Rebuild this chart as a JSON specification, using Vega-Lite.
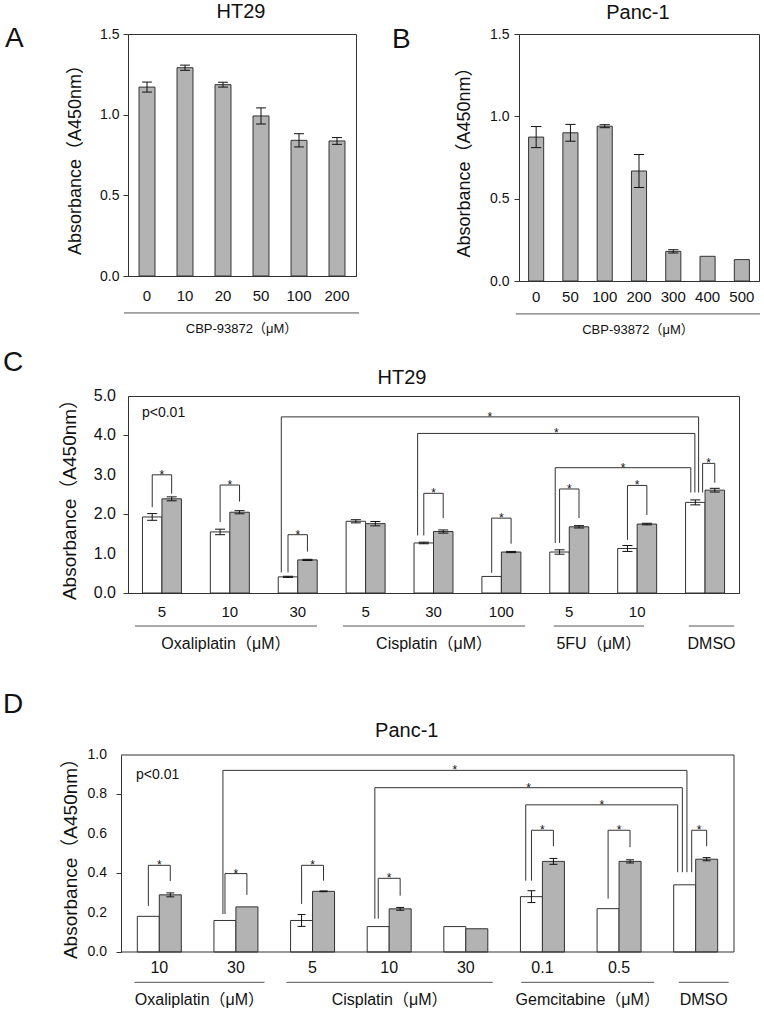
{
"$schema": "https://vega.github.io/schema/vega-lite/v6.json",
"padding": {"left": 2, "top": 1, "right": 0, "bottom": 0},
"config": {
  "font": "Liberation Sans, Noto Sans CJK JP, sans-serif",
  "view": {"stroke": "#333333", "strokeWidth": 1},
  "axis": {"domainColor": "#333333", "tickColor": "#333333", "labelColor": "#111111", "titleColor": "#111111", "titleFontWeight": "normal", "grid": false, "domainWidth": 1, "tickWidth": 1, "labelOverlap": false},
  "text": {"color": "#111111"}
},
"datasets": {
  "A": [
    {"dose": "0", "g": 0, "mean": 1.171, "sd": 0.031},
    {"dose": "10", "g": 1, "mean": 1.291, "sd": 0.016},
    {"dose": "20", "g": 2, "mean": 1.186, "sd": 0.015},
    {"dose": "50", "g": 3, "mean": 0.992, "sd": 0.05},
    {"dose": "100", "g": 4, "mean": 0.841, "sd": 0.041},
    {"dose": "200", "g": 5, "mean": 0.837, "sd": 0.021}
  ],
  "B": [
    {"dose": "0", "g": 0, "mean": 0.874, "sd": 0.064},
    {"dose": "50", "g": 1, "mean": 0.90, "sd": 0.051},
    {"dose": "100", "g": 2, "mean": 0.94, "sd": 0.009},
    {"dose": "200", "g": 3, "mean": 0.668, "sd": 0.10},
    {"dose": "300", "g": 4, "mean": 0.18, "sd": 0.01},
    {"dose": "400", "g": 5, "mean": 0.15, "sd": 0},
    {"dose": "500", "g": 6, "mean": 0.13, "sd": 0}
  ],
  "groupsA": [{"drug": "CBP-93872（μM）", "from": -0.605, "to": 5.58}],
  "groupsB": [{"drug": "CBP-93872（μM）", "from": -0.59, "to": 6.53}],
  "C": [
    {"g": 0, "cond": "ctrl", "dose": "5", "mean": 1.93, "sd": 0.085},
    {"g": 0, "cond": "trt", "dose": "5", "mean": 2.39, "sd": 0.05},
    {"g": 1, "cond": "ctrl", "dose": "10", "mean": 1.55, "sd": 0.07},
    {"g": 1, "cond": "trt", "dose": "10", "mean": 2.05, "sd": 0.04},
    {"g": 2, "cond": "ctrl", "dose": "30", "mean": 0.41, "sd": 0.015},
    {"g": 2, "cond": "trt", "dose": "30", "mean": 0.84, "sd": 0.015},
    {"g": 3, "cond": "ctrl", "dose": "5", "mean": 1.82, "sd": 0.04},
    {"g": 3, "cond": "trt", "dose": "5", "mean": 1.76, "sd": 0.055},
    {"g": 4, "cond": "ctrl", "dose": "30", "mean": 1.27, "sd": 0.02},
    {"g": 4, "cond": "trt", "dose": "30", "mean": 1.56, "sd": 0.04},
    {"g": 5, "cond": "ctrl", "dose": "100", "mean": 0.42, "sd": 0},
    {"g": 5, "cond": "trt", "dose": "100", "mean": 1.04, "sd": 0.015},
    {"g": 6, "cond": "ctrl", "dose": "5", "mean": 1.04, "sd": 0.055},
    {"g": 6, "cond": "trt", "dose": "5", "mean": 1.68, "sd": 0.03},
    {"g": 7, "cond": "ctrl", "dose": "10", "mean": 1.13, "sd": 0.075},
    {"g": 7, "cond": "trt", "dose": "10", "mean": 1.75, "sd": 0.02},
    {"g": 8, "cond": "ctrl", "dose": "", "mean": 2.30, "sd": 0.063},
    {"g": 8, "cond": "trt", "dose": "", "mean": 2.61, "sd": 0.047}
  ],
  "yticksC": [{"v": 0}, {"v": 1}, {"v": 2}, {"v": 3}, {"v": 4}, {"v": 5}],
  "bracketsC": [
    {"x1": -0.143, "x2": 0.143, "top": 3.0, "lb": 2.18, "rb": 2.52, "sig": "*"},
    {"x1": 0.857, "x2": 1.143, "top": 2.74, "lb": 1.80, "rb": 2.32, "sig": "*"},
    {"x1": 1.857, "x2": 2.143, "top": 1.48, "lb": 0.52, "rb": 1.05, "sig": "*"},
    {"x1": 3.857, "x2": 4.143, "top": 2.53, "lb": 1.46, "rb": 1.90, "sig": "*"},
    {"x1": 4.857, "x2": 5.143, "top": 1.90, "lb": 0.51, "rb": 1.25, "sig": "*"},
    {"x1": 5.857, "x2": 6.143, "top": 2.64, "lb": 1.27, "rb": 1.90, "sig": "*"},
    {"x1": 6.857, "x2": 7.143, "top": 2.73, "lb": 1.35, "rb": 1.98, "sig": "*"},
    {"x1": 7.964, "x2": 8.143, "top": 3.29, "lb": 2.55, "rb": 2.80, "sig": "*"},
    {"x1": 1.758, "x2": 7.905, "top": 4.47, "lb": 0.52, "rb": 2.55, "sig": "*"},
    {"x1": 3.766, "x2": 7.85, "top": 4.05, "lb": 1.46, "rb": 2.55, "sig": "*"},
    {"x1": 5.793, "x2": 7.79, "top": 3.18, "lb": 1.27, "rb": 2.55, "sig": "*"}
  ],
  "groupsC": [
    {"drug": "Oxaliplatin（μM）", "from": -0.398, "to": 2.283},
    {"drug": "Cisplatin（μM）", "from": 2.666, "to": 5.35},
    {"drug": "5FU（μM）", "from": 5.77, "to": 7.1},
    {"drug": "DMSO", "from": 7.76, "to": 8.43}
  ],
  "D": [
    {"g": 0, "cond": "ctrl", "dose": "10", "mean": 0.181, "sd": 0},
    {"g": 0, "cond": "trt", "dose": "10", "mean": 0.29, "sd": 0.01},
    {"g": 1, "cond": "ctrl", "dose": "30", "mean": 0.16, "sd": 0},
    {"g": 1, "cond": "trt", "dose": "30", "mean": 0.229, "sd": 0},
    {"g": 2, "cond": "ctrl", "dose": "5", "mean": 0.16, "sd": 0.03},
    {"g": 2, "cond": "trt", "dose": "5", "mean": 0.308, "sd": 0.002},
    {"g": 3, "cond": "ctrl", "dose": "10", "mean": 0.129, "sd": 0},
    {"g": 3, "cond": "trt", "dose": "10", "mean": 0.219, "sd": 0.007},
    {"g": 4, "cond": "ctrl", "dose": "30", "mean": 0.129, "sd": 0},
    {"g": 4, "cond": "trt", "dose": "30", "mean": 0.118, "sd": 0},
    {"g": 5, "cond": "ctrl", "dose": "0.1", "mean": 0.281, "sd": 0.03},
    {"g": 5, "cond": "trt", "dose": "0.1", "mean": 0.46, "sd": 0.015},
    {"g": 6, "cond": "ctrl", "dose": "0.5", "mean": 0.22, "sd": 0},
    {"g": 6, "cond": "trt", "dose": "0.5", "mean": 0.46, "sd": 0.008},
    {"g": 7, "cond": "ctrl", "dose": "", "mean": 0.341, "sd": 0},
    {"g": 7, "cond": "trt", "dose": "", "mean": 0.471, "sd": 0.008}
  ],
  "yticksD": [{"v": 0}, {"v": 0.2}, {"v": 0.4}, {"v": 0.6}, {"v": 0.8}, {"v": 1.0}],
  "frameD": [
    {"x1": -0.5, "x2": 7.5, "y1": 1, "y2": 1},
    {"x1": 7.5, "x2": 7.5, "y1": 0, "y2": 1},
    {"x1": -0.5, "x2": 7.5, "y1": 0, "y2": 0}
  ],
  "bracketsD": [
    {"x1": -0.143, "x2": 0.143, "top": 0.44, "lb": 0.234, "rb": 0.36, "sig": "*"},
    {"x1": 0.857, "x2": 1.143, "top": 0.398, "lb": 0.193, "rb": 0.29, "sig": "*"},
    {"x1": 1.857, "x2": 2.143, "top": 0.44, "lb": 0.244, "rb": 0.362, "sig": "*"},
    {"x1": 2.857, "x2": 3.143, "top": 0.374, "lb": 0.169, "rb": 0.286, "sig": "*"},
    {"x1": 4.857, "x2": 5.143, "top": 0.618, "lb": 0.362, "rb": 0.537, "sig": "*"},
    {"x1": 5.857, "x2": 6.143, "top": 0.618, "lb": 0.271, "rb": 0.532, "sig": "*"},
    {"x1": 6.948, "x2": 7.143, "top": 0.618, "lb": 0.405, "rb": 0.537, "sig": "*"},
    {"x1": 0.830, "x2": 6.886, "top": 0.922, "lb": 0.193, "rb": 0.405, "sig": "*"},
    {"x1": 2.813, "x2": 6.826, "top": 0.834, "lb": 0.169, "rb": 0.405, "sig": "*"},
    {"x1": 4.782, "x2": 6.765, "top": 0.747, "lb": 0.362, "rb": 0.405, "sig": "*"}
  ],
  "groupsD": [
    {"drug": "Oxaliplatin（μM）", "from": -0.324, "to": 1.372},
    {"drug": "Cisplatin（μM）", "from": 1.659, "to": 4.352},
    {"drug": "Gemcitabine（μM）", "from": 4.724, "to": 6.458},
    {"drug": "DMSO", "from": 6.778, "to": 7.43}
  ]
},
"spacing": 10,
"columns": 1,
"align": "none",
"concat": [
{
  "spacing": 30,
  "hconcat": [
  {
    "width": 228, "height": 242,
    "layer": [
      {"data": {"name": "A"},
       "transform": [{"calculate": "datum.g - 0.21", "as": "xa"}, {"calculate": "datum.g + 0.21", "as": "xb"}],
       "mark": {"type": "rect", "fill": "#b3b3b3", "stroke": "#333333", "strokeWidth": 1},
       "encoding": {
         "x": {"field": "xa", "type": "quantitative", "scale": {"domain": [-0.5, 5.5], "nice": false, "zero": false}, "axis": {"labels": false, "ticks": false, "title": null}},
         "x2": {"field": "xb"},
         "y": {"field": "mean", "type": "quantitative", "scale": {"domain": [0, 1.5], "nice": false}, "axis": {"values": [0, 0.5, 1, 1.5], "format": ".1f", "tickSize": 5, "labelPadding": 4, "labelFontSize": 14, "labelOverlap": false, "title": "Absorbance（A450nm）", "titleFontSize": 18, "titlePadding": 15}},
         "y2": {"datum": 0}
       }},
      {"data": {"name": "A"},
       "transform": [{"filter": "datum.sd > 0"}, {"calculate": "datum.mean - datum.sd", "as": "lo"}, {"calculate": "datum.mean + datum.sd", "as": "hi"}],
       "mark": {"type": "rule", "color": "#111111", "strokeWidth": 1},
       "encoding": {"x": {"field": "g", "type": "quantitative"}, "y": {"field": "lo", "type": "quantitative"}, "y2": {"field": "hi"}}},
      {"data": {"name": "A"},
       "transform": [{"filter": "datum.sd > 0"}, {"calculate": "datum.mean - datum.sd", "as": "lo"}, {"calculate": "datum.mean + datum.sd", "as": "hi"}, {"calculate": "datum.g - 0.13", "as": "cl"}, {"calculate": "datum.g + 0.13", "as": "cr"}, {"fold": ["lo", "hi"], "as": ["end", "cy"]}],
       "mark": {"type": "rule", "color": "#111111", "strokeWidth": 1},
       "encoding": {"x": {"field": "cl", "type": "quantitative"}, "x2": {"field": "cr"}, "y": {"field": "cy", "type": "quantitative"}}},
      {"data": {"name": "A"},
       "mark": {"type": "text", "fontSize": 15, "baseline": "middle", "fill": "#111111"},
       "encoding": {"x": {"field": "g", "type": "quantitative"}, "y": {"datum": -0.124, "type": "quantitative"}, "text": {"field": "dose"}}},
      {"data": {"name": "groupsA"},
       "mark": {"type": "rule", "color": "#555555", "strokeWidth": 1},
       "encoding": {"x": {"field": "from", "type": "quantitative"}, "x2": {"field": "to"}, "y": {"datum": -0.229, "type": "quantitative"}}},
      {"data": {"name": "groupsA"},
       "transform": [{"calculate": "(datum.from + datum.to) / 2", "as": "mid"}],
       "mark": {"type": "text", "fontSize": 13, "baseline": "middle", "fill": "#111111"},
       "encoding": {"x": {"field": "mid", "type": "quantitative"}, "y": {"datum": -0.329, "type": "quantitative"}, "text": {"field": "drug"}}},
      {"data": {"values": [{"cell": "HT29"}]},
       "mark": {"type": "text", "fontSize": 20, "baseline": "middle", "fill": "#111111"},
       "encoding": {"x": {"datum": 2.474, "type": "quantitative"}, "y": {"datum": 1.636, "type": "quantitative"}, "text": {"field": "cell"}}},
      {"data": {"values": [{"panel": "A"}]},
       "mark": {"type": "text", "fontSize": 28, "align": "left", "baseline": "middle", "fill": "#111111"},
       "encoding": {"x": {"datum": -3.737, "type": "quantitative"}, "y": {"datum": 1.469, "type": "quantitative"}, "text": {"field": "panel"}}}
    ]
  },
  {
    "width": 240, "height": 247,
    "layer": [
      {"data": {"name": "B"},
       "transform": [{"calculate": "datum.g - 0.22", "as": "xa"}, {"calculate": "datum.g + 0.22", "as": "xb"}],
       "mark": {"type": "rect", "fill": "#b3b3b3", "stroke": "#333333", "strokeWidth": 1},
       "encoding": {
         "x": {"field": "xa", "type": "quantitative", "scale": {"domain": [-0.5, 6.5], "nice": false, "zero": false}, "axis": {"labels": false, "ticks": false, "title": null}},
         "x2": {"field": "xb"},
         "y": {"field": "mean", "type": "quantitative", "scale": {"domain": [0, 1.5], "nice": false}, "axis": {"values": [0, 0.5, 1, 1.5], "format": ".1f", "tickSize": 5, "labelPadding": 5, "labelFontSize": 14, "labelOverlap": false, "title": "Absorbance（A450nm）", "titleFontSize": 18, "titlePadding": 16}},
         "y2": {"datum": 0}
       }},
      {"data": {"name": "B"},
       "transform": [{"filter": "datum.sd > 0"}, {"calculate": "datum.mean - datum.sd", "as": "lo"}, {"calculate": "datum.mean + datum.sd", "as": "hi"}],
       "mark": {"type": "rule", "color": "#111111", "strokeWidth": 1},
       "encoding": {"x": {"field": "g", "type": "quantitative"}, "y": {"field": "lo", "type": "quantitative"}, "y2": {"field": "hi"}}},
      {"data": {"name": "B"},
       "transform": [{"filter": "datum.sd > 0"}, {"calculate": "datum.mean - datum.sd", "as": "lo"}, {"calculate": "datum.mean + datum.sd", "as": "hi"}, {"calculate": "datum.g - 0.15", "as": "cl"}, {"calculate": "datum.g + 0.15", "as": "cr"}, {"fold": ["lo", "hi"], "as": ["end", "cy"]}],
       "mark": {"type": "rule", "color": "#111111", "strokeWidth": 1},
       "encoding": {"x": {"field": "cl", "type": "quantitative"}, "x2": {"field": "cr"}, "y": {"field": "cy", "type": "quantitative"}}},
      {"data": {"name": "B"},
       "mark": {"type": "text", "fontSize": 15, "baseline": "middle", "fill": "#111111"},
       "encoding": {"x": {"field": "g", "type": "quantitative"}, "y": {"datum": -0.097, "type": "quantitative"}, "text": {"field": "dose"}}},
      {"data": {"name": "groupsB"},
       "mark": {"type": "rule", "color": "#555555", "strokeWidth": 1},
       "encoding": {"x": {"field": "from", "type": "quantitative"}, "x2": {"field": "to"}, "y": {"datum": -0.2, "type": "quantitative"}}},
      {"data": {"name": "groupsB"},
       "transform": [{"calculate": "(datum.from + datum.to) / 2", "as": "mid"}],
       "mark": {"type": "text", "fontSize": 13, "baseline": "middle", "fill": "#111111"},
       "encoding": {"x": {"field": "mid", "type": "quantitative"}, "y": {"datum": -0.298, "type": "quantitative"}, "text": {"field": "drug"}}},
      {"data": {"values": [{"cell": "Panc-1"}]},
       "mark": {"type": "text", "fontSize": 20, "baseline": "middle", "fill": "#111111"},
       "encoding": {"x": {"datum": 2.97, "type": "quantitative"}, "y": {"datum": 1.628, "type": "quantitative"}, "text": {"field": "cell"}}},
      {"data": {"values": [{"panel": "B"}]},
       "mark": {"type": "text", "fontSize": 28, "align": "left", "baseline": "middle", "fill": "#111111"},
       "encoding": {"x": {"datum": -4.204, "type": "quantitative"}, "y": {"datum": 1.464, "type": "quantitative"}, "text": {"field": "panel"}}}
    ]
  }
  ]
},
{
  "spacing": 37,
  "columns": 1,
  "align": "none",
  "concat": [
  {
    "width": 611, "height": 197,
    "layer": [
      {"data": {"name": "C"},
       "transform": [{"calculate": "datum.cond == 'ctrl' ? datum.g - 0.287 : datum.g", "as": "xa"}, {"calculate": "datum.cond == 'ctrl' ? datum.g : datum.g + 0.287", "as": "xb"}],
       "mark": {"type": "rect", "stroke": "#333333", "strokeWidth": 1},
       "encoding": {
         "x": {"field": "xa", "type": "quantitative", "scale": {"domain": [-0.5, 8.5], "nice": false, "zero": false}, "axis": {"labels": false, "ticks": false, "title": null}},
         "x2": {"field": "xb"},
         "y": {"field": "mean", "type": "quantitative", "scale": {"domain": [0, 5], "nice": false}, "axis": {"values": [0, 1, 2, 3, 4, 5], "labels": false, "tickSize": 5, "minExtent": 0, "title": "Absorbance（A450nm）", "titleFontSize": 19, "titlePadding": 43}},
         "y2": {"datum": 0},
         "fill": {"field": "cond", "type": "nominal", "scale": {"domain": ["ctrl", "trt"], "range": ["#ffffff", "#b3b3b3"]}, "legend": null}
       }},
      {"data": {"name": "yticksC"},
       "mark": {"type": "text", "fontSize": 16, "align": "right", "baseline": "middle", "fill": "#111111"},
       "encoding": {"x": {"datum": -0.677, "type": "quantitative"}, "y": {"field": "v", "type": "quantitative"}, "text": {"field": "v", "type": "quantitative", "format": ".1f"}}},
      {"data": {"name": "C"},
       "transform": [{"filter": "datum.sd > 0"}, {"calculate": "datum.cond == 'ctrl' ? datum.g - 0.1435 : datum.g + 0.1435", "as": "xc"}, {"calculate": "datum.mean - datum.sd", "as": "lo"}, {"calculate": "datum.mean + datum.sd", "as": "hi"}],
       "mark": {"type": "rule", "color": "#111111", "strokeWidth": 1},
       "encoding": {"x": {"field": "xc", "type": "quantitative"}, "y": {"field": "lo", "type": "quantitative"}, "y2": {"field": "hi"}}},
      {"data": {"name": "C"},
       "transform": [{"filter": "datum.sd > 0"}, {"calculate": "datum.cond == 'ctrl' ? datum.g - 0.1435 : datum.g + 0.1435", "as": "xc"}, {"calculate": "datum.mean - datum.sd", "as": "lo"}, {"calculate": "datum.mean + datum.sd", "as": "hi"}, {"calculate": "datum.xc - 0.074", "as": "cl"}, {"calculate": "datum.xc + 0.074", "as": "cr"}, {"fold": ["lo", "hi"], "as": ["end", "cy"]}],
       "mark": {"type": "rule", "color": "#111111", "strokeWidth": 1},
       "encoding": {"x": {"field": "cl", "type": "quantitative"}, "x2": {"field": "cr"}, "y": {"field": "cy", "type": "quantitative"}}},
      {"data": {"name": "bracketsC"},
       "mark": {"type": "rule", "color": "#333333", "strokeWidth": 1},
       "encoding": {"x": {"field": "x1", "type": "quantitative"}, "x2": {"field": "x2"}, "y": {"field": "top", "type": "quantitative"}}},
      {"data": {"name": "bracketsC"},
       "mark": {"type": "rule", "color": "#333333", "strokeWidth": 1},
       "encoding": {"x": {"field": "x1", "type": "quantitative"}, "y": {"field": "lb", "type": "quantitative"}, "y2": {"field": "top"}}},
      {"data": {"name": "bracketsC"},
       "mark": {"type": "rule", "color": "#333333", "strokeWidth": 1},
       "encoding": {"x": {"field": "x2", "type": "quantitative"}, "y": {"field": "rb", "type": "quantitative"}, "y2": {"field": "top"}}},
      {"data": {"name": "bracketsC"},
       "transform": [{"calculate": "(datum.x1 + datum.x2) / 2", "as": "mid"}],
       "mark": {"type": "text", "fontSize": 12, "baseline": "alphabetic", "dy": 4, "fill": "#111111"},
       "encoding": {"x": {"field": "mid", "type": "quantitative"}, "y": {"field": "top", "type": "quantitative"}, "text": {"field": "sig"}}},
      {"data": {"name": "C"},
       "transform": [{"filter": "datum.cond == 'ctrl'"}],
       "mark": {"type": "text", "fontSize": 15, "baseline": "middle", "fill": "#111111"},
       "encoding": {"x": {"field": "g", "type": "quantitative"}, "y": {"datum": -0.482, "type": "quantitative"}, "text": {"field": "dose"}}},
      {"data": {"name": "groupsC"},
       "mark": {"type": "rule", "color": "#555555", "strokeWidth": 1},
       "encoding": {"x": {"field": "from", "type": "quantitative"}, "x2": {"field": "to"}, "y": {"datum": -0.838, "type": "quantitative"}}},
      {"data": {"name": "groupsC"},
       "transform": [{"calculate": "(datum.from + datum.to) / 2", "as": "mid"}],
       "mark": {"type": "text", "fontSize": 16, "baseline": "middle", "fill": "#111111"},
       "encoding": {"x": {"field": "mid", "type": "quantitative"}, "y": {"datum": -1.294, "type": "quantitative"}, "text": {"field": "drug"}}},
      {"data": {"values": [{"note": "p<0.01"}]},
       "mark": {"type": "text", "fontSize": 14, "align": "left", "baseline": "middle", "fill": "#111111"},
       "encoding": {"x": {"datum": -0.294, "type": "quantitative"}, "y": {"datum": 4.56, "type": "quantitative"}, "text": {"field": "note"}}},
      {"data": {"values": [{"cell": "HT29"}]},
       "mark": {"type": "text", "fontSize": 20, "baseline": "middle", "fill": "#111111"},
       "encoding": {"x": {"datum": 3.535, "type": "quantitative"}, "y": {"datum": 5.457, "type": "quantitative"}, "text": {"field": "cell"}}},
      {"data": {"values": [{"panel": "C"}]},
       "mark": {"type": "text", "fontSize": 28, "align": "left", "baseline": "middle", "fill": "#111111"},
       "encoding": {"x": {"datum": -2.341, "type": "quantitative"}, "y": {"datum": 5.838, "type": "quantitative"}, "text": {"field": "panel"}}}
    ]
  },
  {
    "width": 606, "height": 197,
    "view": {"stroke": null},
    "layer": [
      {"data": {"name": "D"},
       "transform": [{"calculate": "datum.cond == 'ctrl' ? datum.g - 0.287 : datum.g", "as": "xa"}, {"calculate": "datum.cond == 'ctrl' ? datum.g : datum.g + 0.287", "as": "xb"}],
       "mark": {"type": "rect", "stroke": "#333333", "strokeWidth": 1},
       "encoding": {
         "x": {"field": "xa", "type": "quantitative", "scale": {"domain": [-0.4086, 7.5], "nice": false, "zero": false}, "axis": {"labels": false, "ticks": false, "domain": false, "title": null}},
         "x2": {"field": "xb"},
         "y": {"field": "mean", "type": "quantitative", "scale": {"domain": [0, 1], "nice": false}, "axis": {"values": [0, 0.2, 0.4, 0.6, 0.8, 1.0], "labels": false, "tickSize": 5, "minExtent": 0, "offset": 7, "title": "Absorbance（A450nm）", "titleFontSize": 19, "titlePadding": 35}},
         "y2": {"datum": 0},
         "fill": {"field": "cond", "type": "nominal", "scale": {"domain": ["ctrl", "trt"], "range": ["#ffffff", "#b3b3b3"]}, "legend": null}
       }},
      {"data": {"name": "frameD"},
       "mark": {"type": "rule", "color": "#333333", "strokeWidth": 1},
       "encoding": {"x": {"field": "x1", "type": "quantitative"}, "x2": {"field": "x2"}, "y": {"field": "y1", "type": "quantitative"}, "y2": {"field": "y2"}}},
      {"data": {"name": "yticksD"},
       "mark": {"type": "text", "fontSize": 14, "align": "right", "baseline": "middle", "fill": "#111111"},
       "encoding": {"x": {"datum": -0.683, "type": "quantitative"}, "y": {"field": "v", "type": "quantitative"}, "text": {"field": "v", "type": "quantitative", "format": ".1f"}}},
      {"data": {"name": "D"},
       "transform": [{"filter": "datum.sd > 0"}, {"calculate": "datum.cond == 'ctrl' ? datum.g - 0.1435 : datum.g + 0.1435", "as": "xc"}, {"calculate": "datum.mean - datum.sd", "as": "lo"}, {"calculate": "datum.mean + datum.sd", "as": "hi"}],
       "mark": {"type": "rule", "color": "#111111", "strokeWidth": 1},
       "encoding": {"x": {"field": "xc", "type": "quantitative"}, "y": {"field": "lo", "type": "quantitative"}, "y2": {"field": "hi"}}},
      {"data": {"name": "D"},
       "transform": [{"filter": "datum.sd > 0"}, {"calculate": "datum.cond == 'ctrl' ? datum.g - 0.1435 : datum.g + 0.1435", "as": "xc"}, {"calculate": "datum.mean - datum.sd", "as": "lo"}, {"calculate": "datum.mean + datum.sd", "as": "hi"}, {"calculate": "datum.xc - 0.052", "as": "cl"}, {"calculate": "datum.xc + 0.052", "as": "cr"}, {"fold": ["lo", "hi"], "as": ["end", "cy"]}],
       "mark": {"type": "rule", "color": "#111111", "strokeWidth": 1},
       "encoding": {"x": {"field": "cl", "type": "quantitative"}, "x2": {"field": "cr"}, "y": {"field": "cy", "type": "quantitative"}}},
      {"data": {"name": "bracketsD"},
       "mark": {"type": "rule", "color": "#333333", "strokeWidth": 1},
       "encoding": {"x": {"field": "x1", "type": "quantitative"}, "x2": {"field": "x2"}, "y": {"field": "top", "type": "quantitative"}}},
      {"data": {"name": "bracketsD"},
       "mark": {"type": "rule", "color": "#333333", "strokeWidth": 1},
       "encoding": {"x": {"field": "x1", "type": "quantitative"}, "y": {"field": "lb", "type": "quantitative"}, "y2": {"field": "top"}}},
      {"data": {"name": "bracketsD"},
       "mark": {"type": "rule", "color": "#333333", "strokeWidth": 1},
       "encoding": {"x": {"field": "x2", "type": "quantitative"}, "y": {"field": "rb", "type": "quantitative"}, "y2": {"field": "top"}}},
      {"data": {"name": "bracketsD"},
       "transform": [{"calculate": "(datum.x1 + datum.x2) / 2", "as": "mid"}],
       "mark": {"type": "text", "fontSize": 12, "baseline": "alphabetic", "dy": 4, "fill": "#111111"},
       "encoding": {"x": {"field": "mid", "type": "quantitative"}, "y": {"field": "top", "type": "quantitative"}, "text": {"field": "sig"}}},
      {"data": {"name": "D"},
       "transform": [{"filter": "datum.cond == 'ctrl'"}],
       "mark": {"type": "text", "fontSize": 16, "baseline": "middle", "fill": "#111111"},
       "encoding": {"x": {"field": "g", "type": "quantitative"}, "y": {"datum": -0.08, "type": "quantitative"}, "text": {"field": "dose"}}},
      {"data": {"name": "groupsD"},
       "mark": {"type": "rule", "color": "#555555", "strokeWidth": 1},
       "encoding": {"x": {"field": "from", "type": "quantitative"}, "x2": {"field": "to"}, "y": {"datum": -0.154, "type": "quantitative"}}},
      {"data": {"name": "groupsD"},
       "transform": [{"calculate": "(datum.from + datum.to) / 2", "as": "mid"}],
       "mark": {"type": "text", "fontSize": 16, "baseline": "middle", "fill": "#111111"},
       "encoding": {"x": {"field": "mid", "type": "quantitative"}, "y": {"datum": -0.242, "type": "quantitative"}, "text": {"field": "drug"}}},
      {"data": {"values": [{"note": "p<0.01"}]},
       "mark": {"type": "text", "fontSize": 14, "align": "left", "baseline": "middle", "fill": "#111111"},
       "encoding": {"x": {"datum": -0.304, "type": "quantitative"}, "y": {"datum": 0.896, "type": "quantitative"}, "text": {"field": "note"}}},
      {"data": {"values": [{"cell": "Panc-1"}]},
       "mark": {"type": "text", "fontSize": 20, "baseline": "middle", "fill": "#111111"},
       "encoding": {"x": {"datum": 3.23, "type": "quantitative"}, "y": {"datum": 1.122, "type": "quantitative"}, "text": {"field": "cell"}}},
      {"data": {"values": [{"panel": "D"}]},
       "mark": {"type": "text", "fontSize": 28, "align": "left", "baseline": "middle", "fill": "#111111"},
       "encoding": {"x": {"datum": -2.039, "type": "quantitative"}, "y": {"datum": 1.255, "type": "quantitative"}, "text": {"field": "panel"}}}
    ]
  }
  ]
}
]
}
